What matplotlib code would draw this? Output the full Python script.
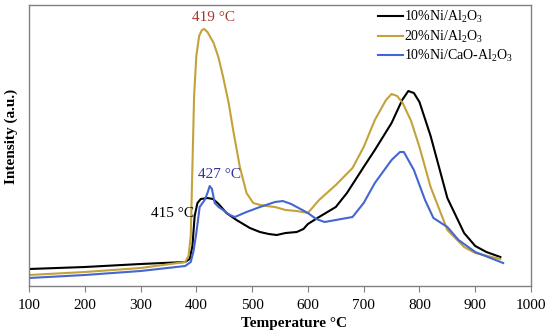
import matplotlib
matplotlib.use("Agg")
import matplotlib.pyplot as plt

plt.rcParams['font.family'] = ['Liberation Serif', 'DejaVu Serif']
plt.rcParams['mathtext.fontset'] = 'custom'
plt.rcParams['mathtext.rm'] = 'Liberation Serif'

# 10%Ni/Al2O3
x_black = [100, 200, 300, 380, 388, 393, 397, 402, 408, 420, 430, 440, 454, 472, 496, 514, 530, 544,
           560, 580, 592, 600, 620, 650, 670, 700, 720, 750, 769, 780, 790, 800, 820, 850, 880, 900, 920, 945]
y_black = [17, 19, 22, 24, 27, 40, 70, 83, 87, 88, 87, 82, 73, 66, 58, 54, 52, 51,
           53, 54, 57, 62, 69, 79, 93, 119, 136, 163, 186, 195, 193, 184, 150, 88, 53, 40, 34, 29]

# 20%Ni/Al2O3
x_gold = [100, 200, 300, 380, 386, 390, 393, 396, 400, 405, 410, 414, 420, 431, 440, 448, 458, 466,
          478, 490, 502, 515, 526, 541, 560, 580, 600, 620, 650, 680, 700, 720, 740, 750, 760, 770,
          785, 800, 820, 850, 880, 900, 945]
y_gold = [11, 14, 18, 24, 30, 50, 120, 190, 230, 250, 256, 257, 254, 243, 228, 209, 183, 156,
          119, 93, 83, 81, 80, 79, 76, 75, 73, 86, 101, 118, 139, 166, 186, 192, 190, 183,
          165, 139, 99, 56, 39, 33, 27]

# 10%Ni/CaO-Al2O3
x_blue = [100, 200, 300, 380, 390, 395, 400, 406, 415, 420, 424, 428, 433, 440, 448, 460, 469, 490,
          514, 541, 555, 570, 580, 600, 615, 630, 650, 680, 700, 720, 750, 765, 772, 790, 810, 825,
          850, 870, 900, 950]
y_blue = [8, 11, 15, 20, 24, 35, 53, 79, 86, 93, 100, 97, 83, 79, 76, 71, 69, 74,
          79, 84, 85, 82, 79, 73, 67, 64, 66, 69, 83, 103, 126, 134, 134, 116, 86, 68,
          59, 46, 34, 23]

labels = ['10%Ni/Al$\\mathregular{_2}$O$\\mathregular{_3}$',
          '20%Ni/Al$\\mathregular{_2}$O$\\mathregular{_3}$',
          '10%Ni/CaO-Al$\\mathregular{_2}$O$\\mathregular{_3}$']
xticks = [100, 200, 300, 400, 500, 600, 700, 800, 900, 1000]

fig = plt.figure(figsize=(5.5, 3.34), dpi=100)
ax = fig.add_axes([0.0527, 0.1437, 0.9128, 0.8413])

ax.plot(x_black, y_black, color='#000000', lw=1.5, label=labels[0])
ax.plot(x_gold, y_gold, color='#c4a23a', lw=1.5, label=labels[1])
ax.plot(x_blue, y_blue, color='#4466d0', lw=1.5, label=labels[2])

ax.set_xlim(100, 1000)
ax.set_ylim(0, 281)
ax.set_xticks(xticks)
ax.set_yticks([])
ax.tick_params(axis='x', direction='out', length=4, color='#808080', labelsize=11, pad=5)
for s in ax.spines.values():
    s.set_color('#808080')
    s.set_linewidth(1.0)

ax.set_xlabel('Temperature °C', fontsize=11, fontweight='bold', labelpad=4)
ax.xaxis.set_label_coords(0.528, -0.11)
ax.set_ylabel('Intensity (a.u.)', fontsize=11, fontweight='bold')
ax.yaxis.set_label_coords(-0.021, 0.534)

ax.text(430, 269, '419 °C', color='#a8382e', fontsize=11, ha='center', va='center')
ax.text(442, 112, '427 °C', color='#33339a', fontsize=11, ha='center', va='center')
ax.text(358, 73, '415 °C', color='#000000', fontsize=11, ha='center', va='center')

ax.legend(loc='upper left', bbox_to_anchor=(0.684, 1.005), frameon=False, fontsize=10,
          handlelength=1.8, handletextpad=0.1, labelspacing=0.25, borderaxespad=0.0)

fig.savefig('out.png', dpi=100)
